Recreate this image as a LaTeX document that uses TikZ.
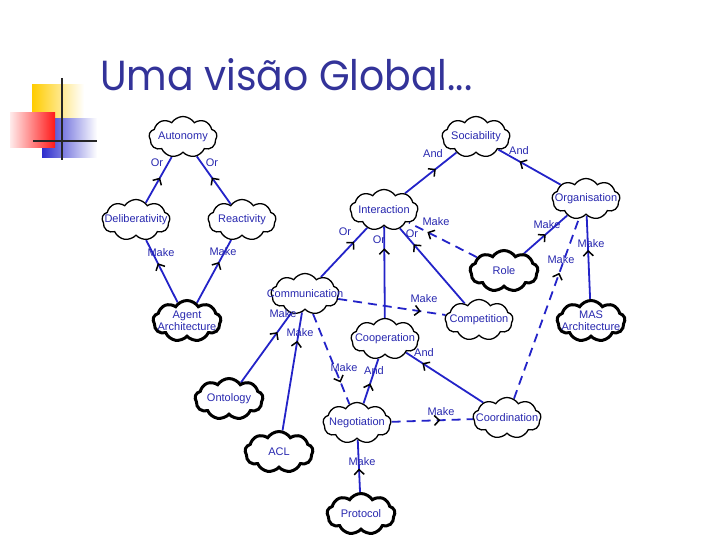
\documentclass[tikz,border=0pt]{standalone}
\usepackage{fontspec}
\setmainfont{Liberation Sans}
\newfontfamily\titlefont{Poppins}
\usetikzlibrary{shapes.symbols,arrows.meta,decorations.markings,backgrounds}
\definecolor{edgeblue}{RGB}{35,35,200}
\definecolor{txtblue}{RGB}{40,40,175}
\definecolor{titleblue}{RGB}{51,51,153}
\definecolor{logoyellow}{RGB}{255,204,0}
\definecolor{logored}{RGB}{255,25,25}
\definecolor{logopink}{RGB}{255,235,235}
\definecolor{logoblue}{RGB}{45,45,205}
\tikzset{
 cloudbase/.style={cloud, cloud puffs=9, cloud puff arc=115, draw=black, fill=white, minimum width=68pt, minimum height=41pt, inner sep=0pt},
 goal/.style={cloudbase, line width=1.3pt},
 res/.style={cloudbase, line width=3pt},
 ctext/.style={text=txtblue, font=\fontsize{11}{12}\selectfont, align=center, inner sep=0pt},
 elabel/.style={text=txtblue, font=\fontsize{11}{12}\selectfont, inner sep=1pt},
 link/.style={draw=edgeblue, line width=1.8pt},
 dlink/.style={link, dash pattern=on 9pt off 6pt},
 arrowat/.style={postaction={decorate, decoration={markings, mark=at position #1 with {\arrow[black, line width=1.5pt]{Straight Barb[length=5pt,width=10pt]}}}}},
}
\begin{document}
\begin{tikzpicture}[x=1pt,y=-1pt]
\useasboundingbox (0,0) rectangle (720,540);
% logo
\shade[left color=logoyellow, middle color=logoyellow, right color=white] (32,85) rectangle (84,119);
\shade[left color=logoblue, middle color=logoblue, right color=white] (42,119) rectangle (97,158);
\shade[left color=logopink, right color=logored] (10,113) rectangle (55,148);
\draw[line width=2pt, black!85] (62,78) -- (62,160);
\draw[line width=2pt, black!85] (33,141) -- (97,141);
% title
\node[anchor=base west, inner sep=0pt, text=titleblue] (title) at (100,91) {\resizebox{372pt}{32pt}{\titlefont Uma visão Global...}};
% clouds
\node[goal] (auto) at (183,137) {};
\node[goal] (delib) at (136,220) {};
\node[goal] (react) at (242,220) {};
\node[res]  (agent) at (187,321) {};
\node[goal] (soc) at (476,137) {};
\node[goal] (inter) at (384,210) {};
\node[goal] (org) at (586,199) {};
\node[res]  (role) at (504,271) {};
\node[goal] (comm) at (305,294) {};
\node[goal] (comp) at (479,320) {};
\node[res]  (mas) at (591,321) {};
\node[goal] (coop) at (385,339) {};
\node[res]  (onto) at (229,399) {};
\node[goal] (nego) at (357,423) {};
\node[goal] (coord) at (507,418) {};
\node[res]  (acl) at (279,452) {};
\node[res]  (proto) at (361,514) {};
% cloud texts
\node[ctext] (autot) at (auto) {Autonomy};
\node[ctext] (delibt) at (delib) {Deliberativity};
\node[ctext] (reactt) at (react) {Reactivity};
\node[ctext] (agentt) at (agent) {Agent\\Architecture};
\node[ctext] (soct) at (soc) {Sociability};
\node[ctext] (intert) at (inter) {Interaction};
\node[ctext] (orgt) at (org) {Organisation};
\node[ctext] (rolet) at (role) {Role};
\node[ctext] (commt) at (comm) {Communication};
\node[ctext] (compt) at (comp) {Competition};
\node[ctext] (mast) at (mas) {MAS\\Architecture};
\node[ctext] (coopt) at (coop) {Cooperation};
\node[ctext] (ontot) at (onto) {Ontology};
\node[ctext] (negot) at (nego) {Negotiation};
\node[ctext] (coordt) at (coord) {Coordination};
\node[ctext] (aclt) at (acl) {ACL};
\node[ctext] (protot) at (proto) {Protocol};
% connectors
\begin{scope}[on background layer]
\draw[link, arrowat=0.55] (delib) -- (auto);
\draw[link, arrowat=0.56] (react) -- (auto);
\draw[link, arrowat=0.63] (agent) -- (delib);
\draw[link, arrowat=0.65] (agent) -- (react);
\draw[link, arrowat=0.6] (inter) -- (soc);
\draw[link, arrowat=0.66] (org) -- (soc);
\draw[link, arrowat=0.72] (comm) -- (inter);
\draw[link, arrowat=0.76] (coop) -- (inter);
\draw[link, arrowat=0.79] (comp) -- (inter);
\draw[dlink, arrowat=0.73] (role) -- (inter);
\draw[link, arrowat=0.5] (role) -- (org);
\draw[dlink, arrowat=0.7] (coord) -- (org);
\draw[link, arrowat=0.59] (mas) -- (org);
\draw[dlink, arrowat=0.77] (comm) -- (comp);
\draw[link, arrowat=0.73] (onto) -- (comm);
\draw[link, arrowat=0.76] (acl) -- (comm);
\draw[dlink, arrowat=0.76] (comm) -- (nego);
\draw[link, arrowat=0.45] (nego) -- (coop);
\draw[link, arrowat=0.79] (coord) -- (coop);
\draw[dlink, arrowat=0.6] (nego) -- (coord);
\draw[link, arrowat=0.45] (proto) -- (nego);
\end{scope}
% connector labels
\node[elabel] (l1) at (157,163) {Or};
\node[elabel] (l2) at (212,163) {Or};
\node[elabel] (l3) at (161,253) {Make};
\node[elabel] (l4) at (223,252) {Make};
\node[elabel] (l5) at (433,154) {And};
\node[elabel] (l6) at (519,151) {And};
\node[elabel] (l7) at (345,232) {Or};
\node[elabel] (l8) at (379,240) {Or};
\node[elabel] (l9) at (412,234) {Or};
\node[elabel] (l10) at (436,222) {Make};
\node[elabel] (l11) at (547,225) {Make};
\node[elabel] (l12) at (591,244) {Make};
\node[elabel] (l13) at (561,260) {Make};
\node[elabel] (l14) at (424,299) {Make};
\node[elabel] (l15) at (283,314) {Make};
\node[elabel] (l16) at (300,333) {Make};
\node[elabel] (l17) at (344,368) {Make};
\node[elabel] (l18) at (374,371) {And};
\node[elabel] (l19) at (424,353) {And};
\node[elabel] (l20) at (441,412) {Make};
\node[elabel] (l21) at (362,462) {Make};
\end{tikzpicture}
\end{document}
